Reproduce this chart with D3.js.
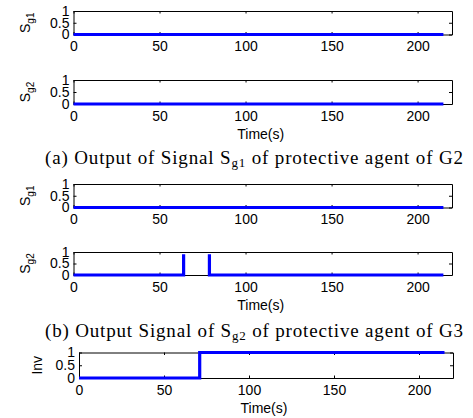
<!DOCTYPE html>
<html>
<head>
<meta charset="utf-8">
<script src="https://cdn.jsdelivr.net/npm/d3@7"></script>
<style>
  body { margin: 0; background: #fff; }
  svg { display: block; }
  .tick text { font-family: "Liberation Sans", Arial, sans-serif; font-size: 14px; fill: #000; }
  .tick line, .domain { stroke: #000; }
  .lab { font-family: "Liberation Sans", Arial, sans-serif; font-size: 14px; fill: #000; }
  .cap { font-family: "Liberation Serif", "Times New Roman", serif; font-size: 19px; fill: #000; }
</style>
</head>
<body>
<div id="chart"></div>
<script>
// signal data (time in s, value)
var sg1A_t = [0, 215], sg1A_v = [0, 0];
var sg2A_t = [0, 215], sg2A_v = [0, 0];
var sg1B_t = [0, 215], sg1B_v = [0, 0];
var sg2B_t = [0, 64, 64, 71.5, 79, 79, 215], sg2B_v = [0, 0, 0.9, NaN, 0.9, 0, 0];
var inv_t = [0, 71, 71, 215], inv_v = [0, 0, 1, 1];

var xTicks = [0, 50, 100, 150, 200];
var yTicks = [0, 0.5, 1];
var xDomain = [0, 220];

var W = 473, H = 418;
var svg = d3.select("#chart").append("svg").attr("width", W).attr("height", H);

// panel layout
var panels = [
    {t: sg1A_t, v: sg1A_v, sub: "g1", top: 11, bottom: 34.5, left: 73.5, right: 452, time: false},
    {t: sg2A_t, v: sg2A_v, sub: "g2", top: 80, bottom: 104, left: 73.5, right: 452, time: true},
    {t: sg1B_t, v: sg1B_v, sub: "g1", top: 184, bottom: 207.5, left: 73.5, right: 452, time: false},
    {t: sg2B_t, v: sg2B_v, sub: "g2", top: 252, bottom: 275, left: 73.5, right: 452, time: true},
    {t: inv_t, v: inv_v, sub: null, top: 352.5, bottom: 378, left: 79, right: 453, time: true}
];

panels.forEach(function(p) {
    var x = d3.scaleLinear().domain(xDomain).range([p.left, p.right]);
    var y = d3.scaleLinear().domain([0, 1]).range([p.bottom, p.top]);
    var g = svg.append("g");

    g.append("g").attr("transform", "translate(0," + p.bottom + ")")
        .call(d3.axisBottom(x).tickValues(xTicks).tickSizeInner(-2.5).tickSizeOuter(0).tickPadding(7));
    g.append("g").attr("transform", "translate(0," + p.top + ")")
        .call(d3.axisTop(x).tickValues(xTicks).tickSizeInner(-2.5).tickSizeOuter(0).tickFormat(""));
    g.append("g").attr("transform", "translate(" + p.left + ",0)")
        .call(d3.axisLeft(y).tickValues(yTicks).tickSizeInner(-3).tickSizeOuter(0).tickPadding(4)
            .tickFormat(function(d) { return d === 0.5 ? "0.5" : d; }));
    g.append("g").attr("transform", "translate(" + p.right + ",0)")
        .call(d3.axisRight(y).tickValues(yTicks).tickSizeInner(-3).tickSizeOuter(0).tickFormat(""));

    var pts = p.t.map(function(d, i) { return [d, p.v[i]]; });
    var line = d3.line()
        .defined(function(d) { return !isNaN(d[1]); })
        .x(function(d) { return x(d[0]); })
        .y(function(d) { return y(d[1]); });
    g.append("path").datum(pts)
        .attr("d", line)
        .attr("fill", "none")
        .attr("stroke", "#0000ff")
        .attr("stroke-width", 3.2);

    // y label
    var ly = (p.top + p.bottom) / 2;
    var lx = p.sub ? 30 : 42;
    var t = g.append("text").attr("class", "lab")
        .attr("transform", "translate(" + lx + "," + ly + ") rotate(-90)")
        .attr("text-anchor", "middle");
    if (p.sub) {
        t.append("tspan").text("S");
        t.append("tspan").attr("font-size", "10px").attr("dy", 4).text(p.sub);
    } else {
        t.text("Inv");
    }

    if (p.time) {
        g.append("text").attr("class", "lab")
            .attr("x", (p.left + p.right) / 2 - 2)
            .attr("y", p.bottom + 35)
            .attr("text-anchor", "middle")
            .text("Time(s)");
    }
});

// captions
function caption(yPos, pre, sub, post) {
    var c = svg.append("text").attr("class", "cap")
        .attr("x", 45).attr("y", yPos)
        .attr("textLength", 418).attr("lengthAdjust", "spacing");
    c.append("tspan").text(pre);
    c.append("tspan").attr("font-size", "13px").attr("dy", 3).text(sub);
    c.append("tspan").attr("dy", -3).text(post);
}
caption(164, "(a) Output of Signal S", "g1", " of protective agent of G2");
caption(337, "(b) Output Signal of S", "g2", " of protective agent of G3");
</script>
</body>
</html>
